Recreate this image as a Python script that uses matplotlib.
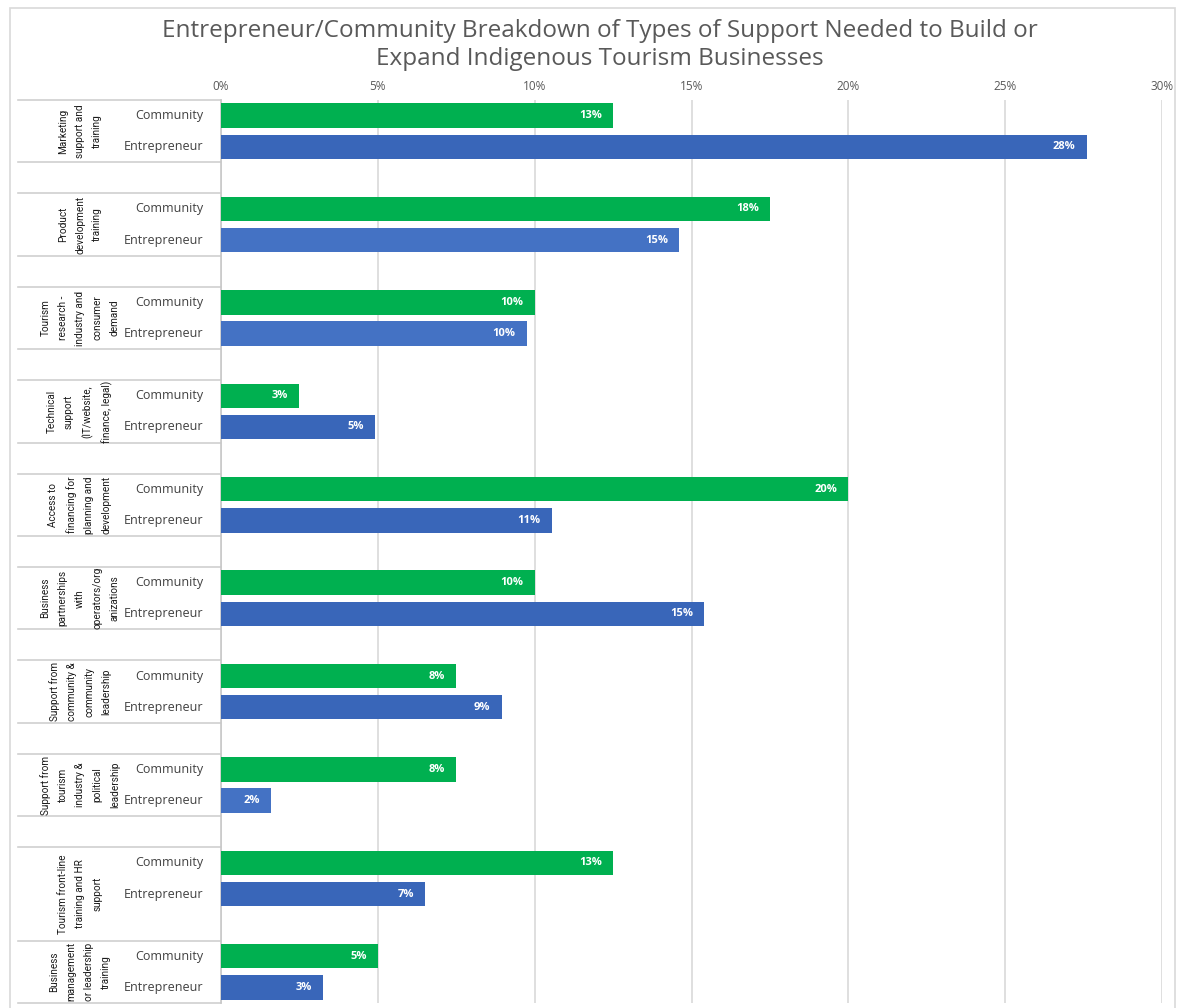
import math
import matplotlib
matplotlib.use("Agg")
import matplotlib.pyplot as plt
from matplotlib.patches import Rectangle

# ---------------- data ----------------
categories = [
    "Marketing\nsupport and\ntraining",
    "Product\ndevelopment\ntraining",
    "Tourism\nresearch -\nindustry and\nconsumer\ndemand",
    "Technical\nsupport\n(IT/website,\nfinance, legal)",
    "Access to\nfinancing for\nplanning and\ndevelopment",
    "Business\npartnerships\nwith\noperators/org\nanizations",
    "Support from\ncommunity &\ncommunity\nleadership",
    "Support from\ntourism\nindustry &\npolitical\nleadership",
    "Tourism front-line\ntraining and HR\nsupport",
    "Business\nmanagement\nor leadership\ntraining",
]
series_names = ["Community", "Entrepreneur"]
community = [12.5, 17.5, 10.0, 2.5, 20.0, 10.0, 7.5, 7.5, 12.5, 5.0]
entrepreneur = [27.6, 14.6, 9.75, 4.9, 10.55, 15.4, 8.95, 1.6, 6.5, 3.25]
xticks = [0, 5, 10, 15, 20, 25, 30]
title = ("Entrepreneur/Community Breakdown of Types of Support Needed to Build or\n"
         "Expand Indigenous Tourism Businesses")

# ---------------- style ----------------
GREEN = "#00B050"
BLUE_D = "#3966B9"
BLUE_L = "#4472C4"
ent_colors = [BLUE_D, BLUE_L, BLUE_L, BLUE_D, BLUE_D, BLUE_D, BLUE_D, BLUE_L, BLUE_D, BLUE_D]
GRID = "#D9D9D9"
TXT = "#595959"
NARROW = ["Roboto", "DejaVu Sans"]
REG = ["Open Sans", "DejaVu Sans"]

W, H = 1182, 1008
fig = plt.figure(figsize=(W / 100, H / 100), dpi=100)
ax = fig.add_axes([221 / W, 1 - 1003 / H, (1162 - 221) / W, (1003 - 100) / H])

n = len(categories)
nrows = 3 * n - 1
comm_rows = [3 * g + 0.5 for g in range(n)]
ent_rows = [3 * g + 1.5 for g in range(n)]

ax.barh(comm_rows, community, height=0.78, color=GREEN, zorder=3)
ax.barh(ent_rows, entrepreneur, height=0.78, color=ent_colors, zorder=3)

ax.set_ylim(nrows, 0)
ax.set_xlim(xticks[0], xticks[-1])
ax.xaxis.tick_top()
ax.set_xticks(xticks)
ax.set_xticklabels([f"{t}%" for t in xticks], fontsize=8.5, color=TXT, family=REG)
ax.tick_params(axis="x", length=0, pad=5)
ax.set_yticks([])
ax.grid(axis="x", color=GRID, lw=1.2, zorder=0)
for s in ["top", "right", "bottom"]:
    ax.spines[s].set_visible(False)
ax.spines["left"].set_color("#C8C8C8")
ax.spines["left"].set_linewidth(1.2)

# data labels
for rows, vals in ((comm_rows, community), (ent_rows, entrepreneur)):
    for r, v in zip(rows, vals):
        ax.annotate(f"{math.floor(v + 0.5)}%", xy=(v, r), xytext=(-8, 0),
                    textcoords="offset points", ha="right", va="center",
                    color="white", fontweight="bold", fontsize=8,
                    family=REG, zorder=4)

# category axis on the left
yt = ax.get_yaxis_transform()
x_lab = (203 - 221) / 941
x_grp = (80 - 221) / 941
x_sep = (18 - 221) / 941
for g in range(n):
    ax.text(x_lab, comm_rows[g], series_names[0], transform=yt, ha="right",
            va="center", fontsize=9, color="#404040", family=REG)
    ax.text(x_lab, ent_rows[g], series_names[1], transform=yt, ha="right",
            va="center", fontsize=9, color="#404040", family=REG)

# group boxes
boxes = []
for g in range(n):
    top = 3 * g
    bot = 3 * g + 2
    if g == n - 2:
        bot = 3 * g + 3
    if g == n - 1:
        bot = nrows
    boxes.append((top, bot))
lines = sorted(set([b for bx in boxes for b in bx]))
for yline in lines:
    ax.plot([x_sep, 0], [yline, yline], transform=yt, color="#D0D0D0",
            lw=1.2, clip_on=False)
for (top, bot), cat in zip(boxes, categories):
    ax.text(x_grp, (top + bot) / 2, cat, transform=yt, rotation=90,
            ha="center", va="center", multialignment="center",
            fontsize=7.2, color="#1A1A1A", family=NARROW, linespacing=1.9)

# title
fig.text(600 / W, 1 - 45 / H, title, ha="center", va="center", fontsize=17.5,
         color=TXT, family=REG, linespacing=1.2)

# outer border
fig.patches.append(Rectangle((10 / W, -0.01), (1175 - 10) / W, 1 - 8 / H + 0.01,
                             transform=fig.transFigure, fill=False,
                             edgecolor=GRID, lw=1.2))

fig.savefig("out.png", dpi=100)
